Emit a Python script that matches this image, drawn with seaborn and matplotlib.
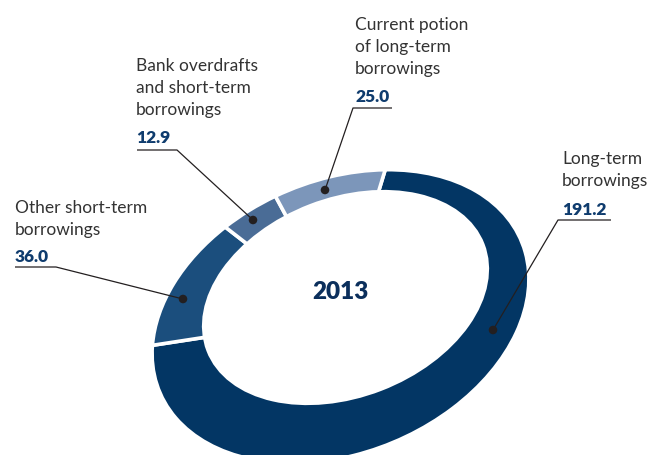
import matplotlib
matplotlib.use("Agg")
import matplotlib.pyplot as plt
from matplotlib.patches import Ellipse
from matplotlib.transforms import Affine2D
import seaborn as sns

# Borrowings structure, 2013
categories = ["Long-term\nborrowings",
              "Other short-term\nborrowings",
              "Bank overdrafts\nand short-term\nborrowings",
              "Current potion\nof long-term\nborrowings"]
values = [191.2, 36.0, 12.9, 25.0]
value_labels = ["191.2", "36.0", "12.9", "25.0"]
centre_label = "2013"

colors = ["#033664", "#1b4e7d", "#4a6c96", "#7c96ba"]

# label layout in pixel space: text x, first-line baseline, number baseline
label_pos = [(562, 164, 215), (15, 213, 262), (136, 71, 143), (355, 30, 102)]
# underline: free end x, elbow x (where the leader leaves), y
underline = [(611, 558, 221), (15, 56, 268), (137, 177, 151), (392, 353, 109)]
dot_x = [493, 183, 253, 325]
dot_y = [331, 300, 221, 191]
line_step = 22

sns.set_theme(style="white")
plt.rcParams["font.family"] = ["Lato", "DejaVu Sans"]

W, H = 656, 456
fig = plt.figure(figsize=(W / 100, H / 100), dpi=100)
ax = fig.add_axes([0, 0, 1, 1])

# ring drawn as a tilted elliptical pie with a white hole on top
wedges, _ = ax.pie(values, colors=colors, startangle=-60.1, counterclock=True,
                   radius=1, center=(0, 0),
                   wedgeprops=dict(edgecolor="white", linewidth=2.6))
outer = Affine2D().scale(196, 136.5).rotate_deg(-22.6).translate(340.5, 317.5)
for w in wedges:
    w.set_transform(outer + ax.transData)

hole = Ellipse((345.5, 298.5), width=2 * 149, height=2 * 100, angle=-21.1,
               facecolor="white", edgecolor="none", zorder=3)
ax.add_patch(hole)

ax.text(340, 292, centre_label, ha="center", va="center", fontsize=17.5,
        fontweight="heavy", color="#0b2f5c", zorder=5)

text_color = "#333333"
num_color = "#0f3c6e"
line_color = "#231f20"
for cat, num, (tx, ty, ny), (ux_end, ux_elbow, uy), dx, dy in zip(
        categories, value_labels, label_pos, underline, dot_x, dot_y):
    for i, line in enumerate(cat.split("\n")):
        ax.text(tx, ty + i * line_step, line, ha="left", va="baseline",
                fontsize=12.5, color=text_color, zorder=5)
    ax.text(tx, ny, num, ha="left", va="baseline", fontsize=12.5,
            fontweight="heavy", color=num_color, zorder=5)
    ax.plot([ux_end, ux_elbow, dx], [uy, uy, dy], color=line_color, lw=0.9,
            zorder=6, solid_capstyle="butt")

sns.scatterplot(x=dot_x, y=dot_y, ax=ax, color=line_color, s=38,
                edgecolor="none", zorder=7, legend=False)

ax.set_xlim(0, W)
ax.set_ylim(H, 0)
ax.set_aspect("auto")
ax.axis("off")

fig.savefig("out.png", dpi=100)
